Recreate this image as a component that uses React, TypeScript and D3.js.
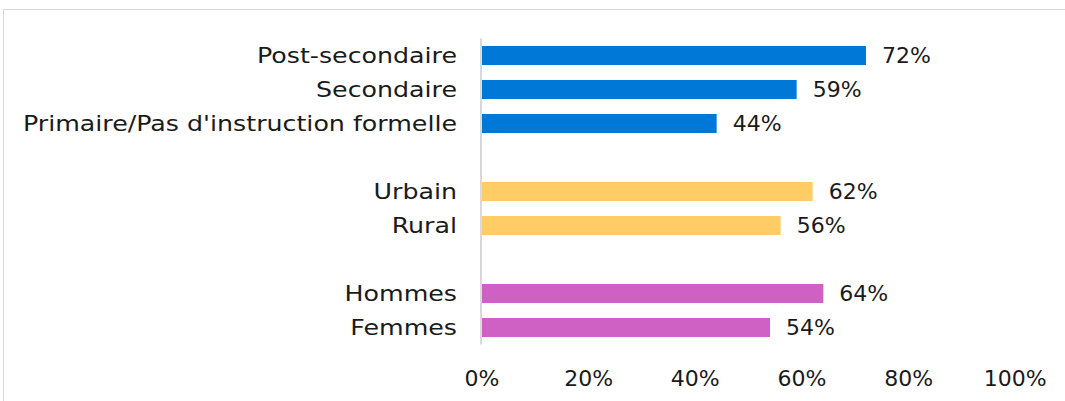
import React, { useEffect, useRef } from "react";
import * as d3 from "d3";

// Bar groups, top to bottom
const educationLabels = ["Post-secondaire", "Secondaire", "Primaire/Pas d'instruction formelle"];
const educationValues = [72, 59, 44];
const residenceLabels = ["Urbain", "Rural"];
const residenceValues = [62, 56];
const sexLabels = ["Hommes", "Femmes"];
const sexValues = [64, 54];
const groupColors = ["#0078d7", "#ffcc66", "#cf60c4"];
const xTicks = [0, 20, 40, 60, 80, 100];

const W = 1065, H = 401;
const FONT = "'DejaVu Sans', sans-serif";

export default function App() {
  const ref = useRef<SVGSVGElement | null>(null);

  useEffect(() => {
    document.body.style.margin = "0";
    const groups = [
      { labels: educationLabels, values: educationValues },
      { labels: residenceLabels, values: residenceValues },
      { labels: sexLabels, values: sexValues },
    ];
    // rows with empty spacer rows between groups
    const rows: { key: string; label: string; value: number | null; color: string }[] = [];
    groups.forEach((g, gi) => {
      if (gi > 0) rows.push({ key: "gap" + gi, label: "", value: null, color: "none" });
      g.labels.forEach((l, i) => rows.push({ key: l, label: l, value: g.values[i], color: groupColors[gi] }));
    });

    const svg = d3.select(ref.current);
    svg.selectAll("*").remove();

    // chart frame
    svg.append("rect")
      .attr("x", 3.5).attr("y", 9.5)
      .attr("width", W + 10).attr("height", H + 10)
      .attr("fill", "#fff").attr("stroke", "#d9d9d9");

    const x = d3.scaleLinear().domain([0, 100]).range([482, 1015.3]);
    const y = d3.scaleBand()
      .domain(rows.map((r) => r.key))
      .range([38.5, 344.5])
      .paddingInner(0.44)
      .paddingOuter(0.22);

    const bars = rows.filter((r) => r.value !== null);
    const mid = (d: { key: string }) => y(d.key)! + y.bandwidth() / 2;

    svg.append("g").selectAll("rect")
      .data(bars)
      .enter().append("rect")
        .attr("x", x(0))
        .attr("y", (d) => y(d.key)!)
        .attr("width", (d) => x(d.value!) - x(0))
        .attr("height", y.bandwidth())
        .attr("fill", (d) => d.color);

    // vertical axis line
    svg.append("line")
      .attr("x1", x(0) - 1).attr("x2", x(0) - 1)
      .attr("y1", 38.5).attr("y2", 344.5)
      .attr("stroke", "#d9d9d9").attr("stroke-width", 2);

    // category labels (stretched a bit to get closer to the wide original face)
    svg.append("g").selectAll("text")
      .data(bars)
      .enter().append("text")
        .attr("transform", (d) => `translate(457,${mid(d)}) scale(1.15,1)`)
        .attr("dy", "0.36em")
        .attr("text-anchor", "end")
        .attr("font-family", FONT)
        .attr("font-size", 22)
        .attr("fill", "#1a1a1a")
        .text((d) => d.label);

    // value labels
    svg.append("g").selectAll("text")
      .data(bars)
      .enter().append("text")
        .attr("x", (d) => x(d.value!) + 16)
        .attr("y", mid)
        .attr("dy", "0.36em")
        .attr("font-family", FONT)
        .attr("font-size", 22)
        .attr("fill", "#1a1a1a")
        .text((d) => `${d.value}%`);

    // x tick labels
    svg.append("g").selectAll("text")
      .data(xTicks)
      .enter().append("text")
        .attr("x", (d) => x(d))
        .attr("y", 378)
        .attr("dy", "0.36em")
        .attr("text-anchor", "middle")
        .attr("font-family", FONT)
        .attr("font-size", 22)
        .attr("fill", "#1a1a1a")
        .text((d) => `${d}%`);
  }, []);

  return (
    <div style={{ position: "absolute", left: 0, top: 0 }}>
      <svg ref={ref} width={W} height={H} style={{ display: "block" }} />
    </div>
  );
}
